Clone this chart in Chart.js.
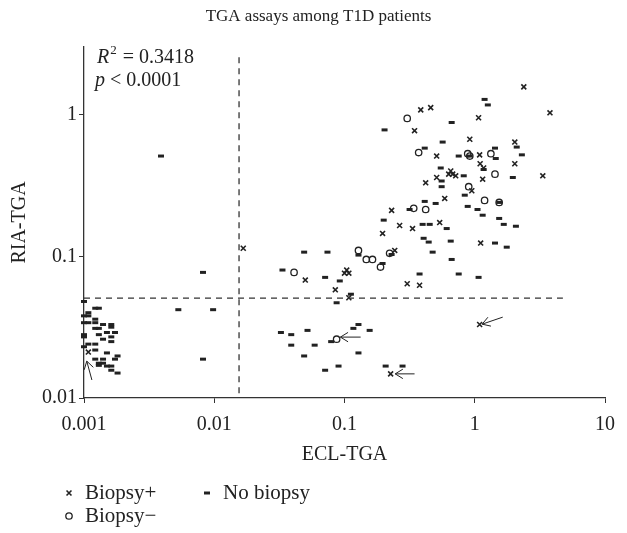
<!DOCTYPE html>
<html>
<head>
<meta charset="utf-8">
<script src="https://cdn.jsdelivr.net/npm/chart.js@4"></script>
<style>
  html, body { margin: 0; padding: 0; background: #fff; }
  #wrap { width: 627px; height: 533px; position: relative; }
</style>
</head>
<body>
<div id="wrap"><canvas id="chart"></canvas></div>
<script>
// Datos (ECL-TGA, RIA-TGA)
const biopsiaPos = [
  [0.385, 1.08], [0.459, 1.12], [1.07, 0.95], [0.345, 0.77], [0.916, 0.67],
  [0.51, 0.51], [1.09, 0.52], [1.1, 0.45], [1.17, 0.42], [0.654, 0.40],
  [0.631, 0.38], [0.677, 0.38], [0.714, 0.37], [0.51, 0.36], [0.42, 0.33],
  [0.949, 0.29], [0.588, 0.256], [0.23, 0.211], [0.265, 0.165], [0.333, 0.157],
  [0.538, 0.173], [0.196, 0.145], [2.38, 1.57], [3.78, 1.03], [2.03, 0.64],
  [2.03, 0.45], [3.33, 0.37], [1.15, 0.35], [1.11, 0.124], [0.243, 0.110],
  [0.104, 0.080], [0.1, 0.076], [0.108, 0.076], [0.050, 0.068], [0.303, 0.064],
  [0.377, 0.0625], [0.085, 0.058], [0.108, 0.051], [1.09, 0.033], [0.226, 0.0148],
  [0.0167, 0.114], [0.00108, 0.0211]
];

const biopsiaNeg = [
  [0.303, 0.94], [0.371, 0.54], [0.883, 0.53], [0.916, 0.51], [1.33, 0.53],
  [1.43, 0.38], [0.899, 0.31], [1.19, 0.248], [1.54, 0.24], [0.34, 0.218],
  [0.42, 0.214], [0.128, 0.110], [0.147, 0.095], [0.164, 0.095], [0.222, 0.105],
  [0.189, 0.084], [0.041, 0.077], [0.087, 0.026]
];

const sinBiopsia = [
  [1.19, 1.28], [1.26, 1.17], [0.665, 0.88], [0.203, 0.78], [0.567, 0.64],
  [0.413, 0.58], [0.753, 0.51], [1.43, 0.58], [2.1, 0.59], [2.3, 0.52],
  [1.45, 0.49], [0.548, 0.42], [1.17, 0.41], [0.823, 0.37], [0.557, 0.34],
  [0.557, 0.31], [1.96, 0.36], [0.838, 0.27], [0.501, 0.236], [0.413, 0.244],
  [0.883, 0.225], [1.05, 0.214], [0.316, 0.214], [1.15, 0.195], [1.54, 0.185],
  [1.67, 0.168], [2.07, 0.163], [0.2, 0.18], [0.398, 0.168], [0.451, 0.168],
  [0.609, 0.157], [0.405, 0.134], [0.443, 0.126], [0.654, 0.128], [1.43, 0.124],
  [1.76, 0.116], [0.665, 0.095], [0.753, 0.075], [1.07, 0.071], [0.377, 0.075],
  [0.475, 0.107], [0.128, 0.102], [0.23, 0.103], [0.196, 0.089], [0.049, 0.107],
  [0.074, 0.107], [0.0334, 0.080], [0.071, 0.071], [0.092, 0.067], [0.112, 0.054],
  [0.087, 0.047], [1.54, 0.24], [0.916, 0.51],
  [0.128, 0.033], [0.117, 0.031], [0.052, 0.030], [0.156, 0.030], [0.039, 0.028],
  [0.0325, 0.029], [0.079, 0.025], [0.039, 0.0236], [0.059, 0.0236], [0.049, 0.0198],
  [0.128, 0.0208], [0.09, 0.0168], [0.071, 0.0157], [0.207, 0.0168], [0.279, 0.0168],
  [0.0039, 0.51], [0.0082, 0.077], [0.0053, 0.042], [0.0098, 0.042], [0.0082, 0.0188],
  [0.001, 0.048], [0.00122, 0.043], [0.0013, 0.043], [0.00108, 0.040], [0.00108, 0.038],
  [0.001, 0.038], [0.00122, 0.036], [0.00108, 0.034], [0.001, 0.034], [0.00122, 0.034],
  [0.0014, 0.033], [0.00162, 0.033], [0.00162, 0.0316], [0.00122, 0.031], [0.0013, 0.031],
  [0.0015, 0.029], [0.00173, 0.029], [0.001, 0.028], [0.001, 0.027], [0.0013, 0.028],
  [0.00162, 0.027], [0.0014, 0.026], [0.00162, 0.025], [0.00108, 0.024], [0.00122, 0.024],
  [0.001, 0.023], [0.00122, 0.0218], [0.0015, 0.0208], [0.00181, 0.0198], [0.00173, 0.0188],
  [0.00122, 0.0188], [0.0014, 0.0188], [0.0013, 0.0176], [0.0014, 0.0176], [0.0013, 0.017],
  [0.0015, 0.0168], [0.00162, 0.0168], [0.00162, 0.0157], [0.00181, 0.015]
];

// Líneas de corte (valores)
const corteX = 0.0155;
const corteY = 0.0506;
const corteXRango = [0.0108, 2.73];
const corteYRango = [0.001, 4.75];

// Flechas: [xCola, yCola, xPunta, yPunta]
const flechas = [
  [0.00115, 0.0134, 0.00105, 0.0182],
  [0.133, 0.0269, 0.093, 0.0269],
  [0.345, 0.0148, 0.245, 0.0148],
  [1.64, 0.0372, 1.14, 0.0332]
];

const xTicks = [0.001, 0.01, 0.1, 1, 10];
const xTickLabels = ['0.001', '0.01', '0.1', '1', '10'];
const yTicks = [0.01, 0.1, 1];
const yTickLabels = ['0.01', '0.1', '1'];

const FUENTE = '"Liberation Serif", "DejaVu Serif", serif';
const NEGRO = '#222';

const aPuntos = arr => arr.map(p => ({ x: p[0], y: p[1] }));

const estilos = {
  pos: { pointStyle: 'crossRot', radius: 3.5, borderWidth: 1.6 },
  neg: { pointStyle: 'circle', radius: 3.2, borderWidth: 1.3 },
  sin: { pointStyle: 'line', radius: 3, borderWidth: 3 }
};

// Título + texto R2 / p
const textoPlugin = {
  id: 'textoR2',
  afterDraw(chart) {
    const c = chart.ctx;
    const a = chart.chartArea;
    c.save();
    c.fillStyle = NEGRO;
    c.textAlign = 'center';
    c.textBaseline = 'middle';
    c.font = '17px ' + FUENTE;
    c.fillText('TGA assays among T1D patients', (a.left + a.right) / 2 - 26, 17);

    c.textAlign = 'left';
    c.textBaseline = 'alphabetic';
    let x = a.left + 13;
    let y = a.top + 16;
    c.font = 'italic 20px ' + FUENTE;
    c.fillText('R', x, y);
    x += c.measureText('R').width;
    c.font = '13px ' + FUENTE;
    c.fillText('2', x + 1, y - 9);
    x += c.measureText('2').width + 2;
    c.font = '20px ' + FUENTE;
    c.fillText(' = 0.3418', x, y);

    x = a.left + 11;
    y = a.top + 39;
    c.font = 'italic 20px ' + FUENTE;
    c.fillText('p', x, y);
    x += c.measureText('p').width;
    c.font = '20px ' + FUENTE;
    c.fillText(' < 0.0001', x, y);
    c.restore();
  }
};

const flechasPlugin = {
  id: 'flechas',
  afterDatasetsDraw(chart) {
    const c = chart.ctx;
    const sx = chart.scales.x, sy = chart.scales.y;
    c.save();
    c.strokeStyle = NEGRO;
    c.lineWidth = 1;
    flechas.forEach(f => {
      const x0 = sx.getPixelForValue(f[0]), y0 = sy.getPixelForValue(f[1]);
      const x1 = sx.getPixelForValue(f[2]), y1 = sy.getPixelForValue(f[3]);
      const ang = Math.atan2(y1 - y0, x1 - x0);
      const L = 9, ab = 0.55;
      c.beginPath();
      c.moveTo(x0, y0);
      c.lineTo(x1, y1);
      c.moveTo(x1 - L * Math.cos(ang - ab), y1 - L * Math.sin(ang - ab));
      c.lineTo(x1, y1);
      c.lineTo(x1 - L * Math.cos(ang + ab), y1 - L * Math.sin(ang + ab));
      c.stroke();
    });
    c.restore();
  }
};

const leyendaPlugin = {
  id: 'leyenda',
  afterDraw(chart) {
    const c = chart.ctx;
    const items = [
      { txt: 'Biopsy+', est: estilos.pos, x: 69, y: 493 },
      { txt: 'No biopsy', est: estilos.sin, x: 207, y: 493 },
      { txt: 'Biopsy\u2212', est: estilos.neg, x: 69, y: 516 }
    ];
    c.save();
    items.forEach(it => {
      c.strokeStyle = NEGRO;
      c.fillStyle = 'rgba(0,0,0,0)';
      c.lineWidth = it.est.borderWidth;
      Chart.helpers.drawPoint(c, { pointStyle: it.est.pointStyle, radius: it.est.radius, borderWidth: it.est.borderWidth, rotation: 0 }, it.x, it.y);
      c.fillStyle = NEGRO;
      c.font = '21px ' + FUENTE;
      c.textBaseline = 'middle';
      c.fillText(it.txt, it.x + 16, it.y);
    });
    c.restore();
  }
};

const serie = (label, data, est) => ({
  type: 'scatter',
  label: label,
  data: aPuntos(data),
  pointStyle: est.pointStyle,
  pointRadius: est.radius,
  pointBorderWidth: est.borderWidth,
  borderColor: NEGRO,
  backgroundColor: 'rgba(0,0,0,0)',
  pointHoverRadius: est.radius,
  clip: false
});

const linea = (data) => ({
  type: 'line',
  data: data,
  borderColor: '#333',
  borderWidth: 1.3,
  borderDash: [6, 5],
  pointRadius: 0,
  fill: false,
  tension: 0
});

const ctx = document.getElementById('chart').getContext('2d');

const chart = new Chart(ctx, {
  data: {
    datasets: [
      linea([{ x: corteX, y: corteXRango[0] }, { x: corteX, y: corteXRango[1] }]),
      linea([{ x: corteYRango[0], y: corteY }, { x: corteYRango[1], y: corteY }]),
      serie('No biopsy', sinBiopsia, estilos.sin),
      serie('Biopsy\u2212', biopsiaNeg, estilos.neg),
      serie('Biopsy+', biopsiaPos, estilos.pos)
    ]
  },
  options: {
    responsive: true,
    maintainAspectRatio: false,
    animation: false,
    layout: { padding: { left: 6, right: 22, top: 47, bottom: 62 } },
    plugins: {
      legend: { display: false },
      tooltip: { enabled: false },
      title: { display: false }
    },
    scales: {
      x: {
        type: 'logarithmic',
        min: 0.001,
        max: 10,
        afterBuildTicks: s => { s.ticks = xTicks.map(v => ({ value: v })); },
        afterFit: s => { s.height = 73; },
        ticks: {
          color: NEGRO,
          font: { family: FUENTE, size: 20 },
          padding: 10,
          maxRotation: 0,
          callback: (v, i) => xTickLabels[i]
        },
        grid: { drawOnChartArea: false, drawTicks: true, tickLength: 5, color: '#333' },
        border: { color: '#333', width: 1.3 },
        title: {
          display: true,
          text: 'ECL-TGA',
          color: NEGRO,
          font: { family: FUENTE, size: 20 },
          padding: { top: 6, bottom: 4 }
        }
      },
      y: {
        type: 'logarithmic',
        min: 0.01,
        max: 3,
        afterBuildTicks: s => { s.ticks = yTicks.map(v => ({ value: v })); },
        afterFit: s => { s.width = 78; },
        ticks: {
          color: NEGRO,
          font: { family: FUENTE, size: 20 },
          padding: 2,
          callback: (v, i) => yTickLabels[i]
        },
        grid: { drawOnChartArea: false, drawTicks: true, tickLength: 5, color: '#333' },
        border: { color: '#333', width: 1.3 },
        title: {
          display: true,
          text: 'RIA-TGA',
          color: NEGRO,
          font: { family: FUENTE, size: 20 },
          padding: { top: 2, bottom: 0 }
        }
      }
    }
  },
  plugins: [textoPlugin, flechasPlugin, leyendaPlugin]
});
</script>
</body>
</html>
